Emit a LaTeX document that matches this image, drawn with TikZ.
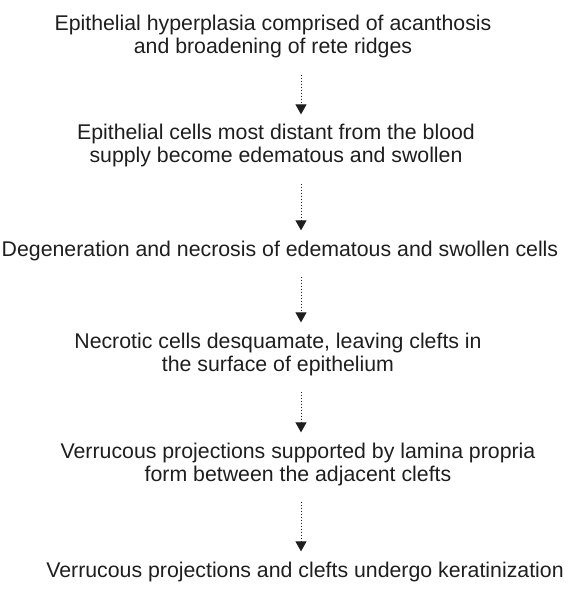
\documentclass[tikz,border=0pt]{standalone}
\usepackage{fontspec}
\setmainfont{Liberation Sans}
\usepackage{xcolor}
\usetikzlibrary{arrows.meta,positioning}
\definecolor{myctext}{HTML}{1E1E1E}

\begin{document}
\begin{tikzpicture}[
 x=1pt,y=1pt,
 t/.style={align=center,inner sep=0pt,text=myctext,font=\fontsize{21.3}{23}\selectfont},
 a/.style={dotted,line width=1pt,draw=myctext,-{Triangle[width=11pt,length=10pt]},shorten <=16pt,shorten >=10pt}
]
\useasboundingbox (0,0) rectangle (579,-593);
\coordinate (col) at (301,0);
\node[t,anchor=base] (hyper) at (273,-54) {Epithelial hyperplasia comprised of acanthosis\\and broadening of rete ridges};
\node[t,anchor=base] (edema) at (276,-163) {Epithelial cells most distant from the blood\\supply become edematous and swollen};
\node[t,anchor=base] (necro) at (280,-256) {Degeneration and necrosis of edematous and swollen cells};
\node[t,anchor=base] (desq) at (278,-371) {Necrotic cells desquamate, leaving clefts in\\the surface of epithelium};
\node[t,anchor=base] (verr) at (298,-481) {Verrucous projections supported by lamina propria\\form between the adjacent clefts};
\node[t,anchor=base] (kera) at (305,-577) {Verrucous projections and clefts undergo keratinization};
\draw[a] (hyper.south -| col) -- (edema.north -| col);
\draw[a] (edema.south -| col) -- (necro.north -| col);
\draw[a] (necro.south -| col) -- (desq.north -| col);
\draw[a] (desq.south -| col) -- (verr.north -| col);
\draw[a] (verr.south -| col) -- (kera.north -| col);
\end{tikzpicture}
\end{document}
